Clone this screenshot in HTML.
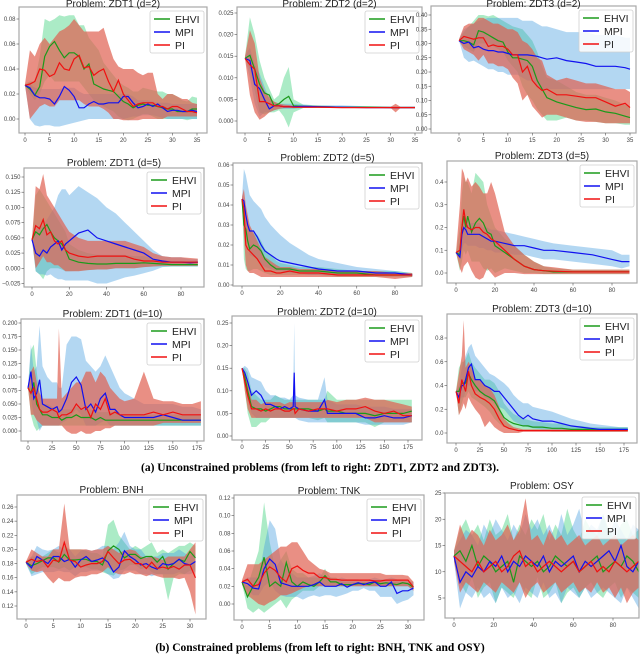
<!DOCTYPE html>
<html><head><meta charset="utf-8"><style>
html,body{margin:0;padding:0;background:#fff;width:640px;height:671px;overflow:hidden}
svg text{font-family:"Liberation Sans",sans-serif}
</style></head><body>
<svg id="fig" width="640" height="671" viewBox="0 0 640 671" xmlns="http://www.w3.org/2000/svg">
<text x="320" y="471" text-anchor="middle" style="font-family:'Liberation Serif',serif;font-weight:bold;font-size:11.5px">(a) Unconstrained problems (from left to right:  ZDT1, ZDT2 and ZDT3).</text>
<text x="320" y="651" text-anchor="middle" style="font-family:'Liberation Serif',serif;font-weight:bold;font-size:11.5px">(b) Constrained problems (from left to right:  BNH, TNK and OSY)</text>
</svg>
<script>
// ===== DATA =====
const a1_x=[0,1,2,3,4,5,6,7,8,9,10,11,12,13,14,15,16,17,18,19,20,21,22,23,24,25,26,27,28,29,30,31,32,33,34,35];
const a1_ehvi_mean=[.027,.024,.019,.026,.05,.058,.062,.055,.049,.053,.053,.05,.04,.044,.028,.026,.024,.023,.022,.018,.014,.012,.009,.011,.012,.011,.011,.01,.009,.008,.008,.006,.006,.006,.008,.008];
const a1_ehvi_lo=[.027,.02,.015,.02,.03,.035,.03,.03,.03,.03,.03,.03,.025,.02,.015,.012,.01,.008,.006,.002,0,-.001,0,.002,.004,.004,.002,0,0,0,0,0,0,-.001,0,0];
const a1_ehvi_hi=[.028,.03,.03,.05,.08,.078,.08,.083,.082,.083,.083,.075,.075,.065,.06,.055,.045,.04,.035,.03,.027,.025,.022,.022,.025,.024,.023,.022,.022,.02,.02,.018,.015,.014,.018,.017];
const a1_mpi_mean=[.027,.025,.019,.017,.017,.016,.012,.018,.026,.023,.018,.009,.009,.012,.014,.012,.012,.013,.013,.013,.018,.018,.013,.009,.01,.012,.01,.012,.009,.006,.007,.007,.006,.006,.007,.006];
const a1_mpi_lo=[.027,0,-.005,-.006,-.005,-.005,-.006,-.006,-.005,-.004,-.003,-.002,-.001,0,0,0,0,0,0,0,0,.001,.002,.002,.003,.003,.003,.002,.001,0,0,0,0,0,0,0];
const a1_mpi_hi=[.028,.028,.025,.024,.024,.024,.024,.024,.025,.025,.025,.022,.02,.02,.02,.02,.02,.02,.02,.02,.02,.02,.018,.015,.015,.015,.014,.013,.013,.013,.012,.012,.012,.012,.012,.012];
const a1_pi_mean=[.027,.028,.03,.04,.039,.034,.036,.045,.04,.039,.048,.051,.041,.042,.035,.038,.04,.03,.022,.031,.02,.015,.01,.012,.013,.013,.013,.01,.01,.008,.01,.01,.008,.006,.006,.005];
const a1_pi_lo=[.027,0,.005,.01,.012,.01,.01,.015,.015,.015,.015,.015,.012,.01,.01,.01,.008,.005,0,0,-.001,-.001,-.001,-.001,0,0,0,0,0,.002,.002,.002,.002,.002,.002,.002];
const a1_pi_hi=[.028,.055,.05,.06,.065,.06,.065,.07,.072,.075,.08,.075,.07,.07,.07,.07,.073,.06,.048,.042,.04,.04,.04,.037,.035,.037,.037,.02,.016,.02,.02,.018,.016,.016,.013,.012];

const a2_x=[0,1,2,3,4,5,6,7,8,9,10,12,15,20,25,30,31,32,35];
const a2_ehvi_mean=[.0145,.0152,.012,.0085,.0065,.006,.0035,.004,.005,.0057,.0035,.0034,.0033,.0032,.0032,.0031,.0031,.0031,.0031];
const a2_ehvi_lo=[.0145,.012,.007,.002,.0015,.002,.002,.0025,.001,-.0015,.002,.003,.003,.003,.003,.003,.003,.003,.003];
const a2_ehvi_hi=[.015,.024,.02,.014,.01,.0075,.005,.006,.01,.0125,.005,.0038,.0036,.0034,.0034,.0033,.0033,.0033,.0033];
const a2_mpi_mean=[.0145,.014,.0085,.0075,.005,.0028,.0035,.0035,.0033,.0033,.0033,.0034,.0033,.0032,.0031,.0031,.0031,.0031,.0031];
const a2_mpi_lo=[.0145,.01,.004,.001,.002,.002,.0025,.0028,.0028,.0028,.0028,.003,.003,.003,.003,.003,.003,.003,.003];
const a2_mpi_hi=[.015,.017,.013,.011,.008,.005,.0045,.004,.004,.004,.004,.0038,.0036,.0036,.0034,.0034,.0034,.0034,.0034];
const a2_pi_mean=[.0145,.013,.012,.0045,.0045,.004,.0035,.0035,.0033,.0033,.0032,.0032,.0032,.0031,.0031,.0031,.0031,.0031,.0031];
const a2_pi_lo=[.0145,.006,.002,.0003,.001,.002,.0025,.0028,.003,.003,.003,.003,.003,.003,.003,.003,.002,.003,.003];
const a2_pi_hi=[.015,.021,.018,.01,.007,.0055,.0045,.004,.0038,.0037,.0035,.0035,.0035,.0033,.0033,.0033,.004,.0033,.0033];

const a3_x=[0,1,2,3,4,5,6,7,8,9,10,11,12,13,14,15,16,17,18,20,22,24,26,28,30,32,34,35];
const a3_ehvi_mean=[.31,.31,.305,.295,.345,.34,.33,.32,.31,.305,.27,.25,.25,.245,.24,.22,.17,.14,.11,.095,.085,.075,.068,.07,.06,.055,.045,.04];
const a3_ehvi_lo=[.31,.29,.28,.27,.3,.3,.3,.29,.28,.27,.24,.22,.2,.15,.12,.1,.07,.05,.03,.03,.04,.03,.03,.025,.02,.02,.015,.015];
const a3_ehvi_hi=[.315,.34,.36,.38,.4,.4,.395,.4,.39,.38,.37,.36,.355,.35,.33,.31,.27,.22,.18,.17,.15,.13,.12,.12,.11,.1,.085,.08];
const a3_mpi_mean=[.31,.3,.305,.285,.29,.28,.275,.275,.27,.27,.265,.26,.26,.26,.26,.258,.255,.25,.245,.25,.24,.235,.23,.22,.22,.22,.215,.21];
const a3_mpi_lo=[.31,.25,.235,.24,.23,.22,.21,.21,.2,.2,.19,.19,.19,.18,.17,.17,.15,.14,.14,.14,.14,.14,.14,.14,.14,.14,.14,.14];
const a3_mpi_hi=[.315,.35,.36,.37,.38,.385,.39,.39,.39,.39,.39,.39,.39,.38,.38,.38,.37,.36,.36,.35,.34,.34,.34,.33,.33,.33,.32,.32];
const a3_pi_mean=[.31,.325,.32,.315,.32,.32,.29,.295,.29,.29,.28,.26,.26,.2,.22,.17,.15,.135,.14,.12,.12,.115,.11,.11,.095,.08,.09,.075];
const a3_pi_lo=[.31,.28,.27,.26,.24,.26,.23,.23,.22,.22,.21,.18,.16,.1,.12,.08,.06,.04,.05,.05,.04,.03,.025,.025,.02,.02,.02,.02];
const a3_pi_hi=[.315,.36,.37,.37,.39,.39,.38,.37,.37,.36,.35,.35,.34,.31,.3,.28,.25,.24,.19,.17,.18,.17,.16,.16,.15,.14,.14,.13];

const b1_x=[0,2,4,6,8,10,12,14,16,18,20,25,30,35,40,45,50,55,60,65,70,75,80,85,89];
const b1_ehvi_mean=[.047,.06,.055,.065,.072,.06,.05,.045,.04,.03,.015,.01,.008,.007,.007,.008,.008,.008,.009,.008,.007,.006,.006,.006,.006];
const b1_ehvi_lo=[.047,-.005,-.01,-.018,-.005,0,0,0,-.002,-.005,-.005,-.004,-.003,-.002,-.002,0,0,0,.002,.003,.003,.003,.003,.003,.003];
const b1_ehvi_hi=[.048,.12,.13,.12,.11,.1,.09,.08,.07,.06,.04,.03,.025,.022,.022,.022,.022,.02,.02,.016,.013,.012,.012,.012,.012];
const b1_mpi_mean=[.047,.025,.02,.03,.025,.035,.04,.045,.03,.04,.045,.058,.063,.05,.045,.04,.035,.03,.025,.015,.012,.01,.01,.009,.01];
const b1_mpi_lo=[.047,-.005,-.01,-.01,-.012,-.01,-.015,-.018,-.018,-.02,-.02,-.02,-.02,-.025,-.025,-.02,-.015,-.012,-.008,-.004,.002,.003,.003,.003,.003];
const b1_mpi_hi=[.048,.06,.07,.07,.08,.09,.1,.12,.13,.13,.12,.135,.125,.115,.1,.09,.075,.06,.045,.03,.02,.018,.018,.015,.015];
const b1_pi_mean=[.047,.07,.065,.08,.055,.06,.045,.04,.045,.03,.025,.02,.018,.02,.02,.02,.02,.015,.012,.012,.01,.01,.01,.01,.01];
const b1_pi_lo=[.047,0,.01,.02,.01,.01,.005,.005,0,-.005,-.005,-.005,-.003,-.002,-.002,0,0,0,.002,.003,.004,.004,.004,.004,.004];
const b1_pi_hi=[.048,.135,.13,.155,.12,.11,.1,.09,.08,.07,.06,.05,.045,.045,.045,.045,.045,.04,.035,.025,.02,.018,.018,.017,.016];

const b2_x=[0,1,2,3,4,6,8,10,12,15,18,20,25,30,35,40,50,60,70,80,89];
const b2_ehvi_mean=[.043,.03,.028,.022,.018,.02,.019,.017,.013,.01,.008,.008,.008,.007,.007,.007,.006,.006,.005,.005,.005];
const b2_ehvi_lo=[.043,.013,.008,.007,.007,.008,.008,.007,.006,.005,.005,.005,.005,.005,.005,.005,.004,.004,.004,.004,.004];
const b2_ehvi_hi=[.044,.04,.037,.03,.027,.026,.025,.022,.018,.015,.012,.011,.01,.009,.009,.009,.008,.007,.007,.007,.006];
const b2_mpi_mean=[.043,.042,.035,.03,.027,.027,.024,.02,.017,.015,.013,.012,.011,.01,.009,.008,.007,.007,.006,.006,.005];
const b2_mpi_lo=[.043,.03,.025,.02,.015,.014,.013,.01,.009,.008,.007,.007,.006,.006,.005,.005,.005,.005,.005,.005,.004];
const b2_mpi_hi=[.044,.058,.055,.05,.045,.042,.04,.038,.034,.03,.027,.025,.021,.018,.015,.013,.011,.009,.008,.007,.006];
const b2_pi_mean=[.043,.038,.02,.018,.017,.015,.013,.01,.007,.007,.006,.006,.007,.006,.006,.006,.005,.005,.005,.005,.005];
const b2_pi_lo=[.043,.025,.01,.007,.006,.006,.005,.004,.004,.004,.004,.004,.004,.004,.004,.004,.004,.004,.004,.003,.004];
const b2_pi_hi=[.044,.048,.04,.035,.03,.026,.022,.018,.014,.012,.01,.009,.009,.008,.008,.008,.007,.007,.007,.006,.006];

const b3_x=[0,2,3,4,5,6,8,10,12,14,16,18,20,25,30,35,40,45,50,60,70,80,85,89];
const b3_ehvi_mean=[.09,.08,.2,.25,.2,.25,.18,.22,.24,.22,.18,.17,.12,.09,.06,.03,.015,.01,.005,.005,.005,.005,.005,.005];
const b3_ehvi_lo=[.09,.01,.05,.1,.08,.1,.05,.05,.05,.02,.01,.02,0,.02,.01,0,0,-.005,-.005,-.005,-.005,-.005,-.005,-.005];
const b3_ehvi_hi=[.09,.2,.35,.42,.4,.4,.35,.44,.42,.4,.3,.25,.2,.15,.12,.08,.05,.03,.02,.015,.015,.015,.015,.015];
const b3_mpi_mean=[.09,.07,.17,.2,.19,.17,.17,.17,.17,.16,.15,.14,.14,.13,.12,.12,.11,.1,.1,.09,.08,.06,.05,.05];
const b3_mpi_lo=[.09,.06,.1,.13,.13,.12,.12,.12,.11,.11,.1,.1,.09,.09,.08,.08,.07,.06,.06,.05,.04,.03,.02,.03];
const b3_mpi_hi=[.09,.1,.22,.25,.24,.22,.22,.22,.22,.2,.2,.19,.19,.18,.17,.16,.15,.14,.13,.12,.11,.1,.08,.08];
const b3_pi_mean=[.09,.1,.2,.28,.22,.2,.19,.2,.2,.18,.17,.15,.14,.1,.06,.03,.015,.01,.008,.005,.005,.005,.005,.005];
const b3_pi_lo=[.09,.02,0,.03,.04,.05,.01,-.02,-.03,-.02,.02,0,-.02,0,0,-.005,-.005,-.005,-.005,-.005,-.005,-.005,-.005,-.005];
const b3_pi_hi=[.09,.3,.46,.44,.4,.42,.38,.4,.38,.35,.35,.4,.35,.18,.12,.08,.05,.03,.025,.015,.015,.015,.015,.015];

const c1_x=[0,3,6,9,12,15,20,25,30,32,35,40,45,50,55,60,65,70,75,80,85,90,95,100,110,120,130,140,150,160,170,179];
const c1_ehvi_mean=[.08,.07,.09,.05,.04,.03,.03,.025,.025,.025,.02,.025,.025,.03,.025,.025,.025,.02,.025,.02,.02,.02,.02,.02,.02,.02,.02,.02,.02,.02,.02,.02];
const c1_ehvi_lo=[.08,.03,.01,0,.005,.01,.01,.01,.01,.01,.01,.01,.01,.01,.01,.01,.01,.01,.01,.01,.01,.01,.01,.01,.01,.01,.01,.01,.01,.01,.01,.01];
const c1_ehvi_hi=[.08,.15,.16,.11,.07,.05,.05,.045,.04,.04,.04,.04,.04,.045,.04,.04,.04,.035,.035,.035,.035,.035,.03,.03,.03,.03,.03,.03,.03,.03,.03,.03];
const c1_mpi_mean=[.08,.11,.06,.07,.095,.05,.045,.04,.045,.035,.04,.06,.09,.1,.085,.04,.05,.035,.06,.07,.04,.04,.03,.025,.025,.025,.025,.03,.025,.02,.02,.02];
const c1_mpi_lo=[.08,.06,.03,.02,0,.01,.01,.01,.01,.01,.015,.02,.03,.04,.03,.01,.01,.01,.015,.02,.01,.01,.01,.01,.01,.01,.01,.01,.01,.01,.01,.01];
const c1_mpi_hi=[.08,.16,.11,.12,.195,.12,.1,.09,.09,.08,.08,.16,.175,.175,.17,.13,.12,.11,.12,.14,.12,.1,.08,.07,.06,.05,.05,.05,.05,.045,.045,.04];
const c1_pi_mean=[.08,.07,.08,.06,.04,.035,.035,.04,.035,.025,.03,.03,.035,.05,.04,.045,.025,.05,.04,.06,.03,.035,.03,.03,.03,.03,.035,.03,.035,.03,.03,.03];
const c1_pi_lo=[.08,.03,.03,.02,.015,.01,.01,.01,.01,.01,.01,0,-.005,-.005,0,-.005,-.005,0,0,.005,.005,.01,.01,.01,.01,.01,.01,.015,.015,.015,.015,.015];
const c1_pi_hi=[.08,.11,.12,.09,.07,.06,.06,.06,.06,.19,.06,.07,.08,.09,.09,.11,.11,.09,.11,.1,.08,.07,.06,.055,.06,.11,.06,.055,.055,.05,.05,.055];

const c2_x=[0,3,6,10,15,20,25,30,35,40,45,50,54,55,56,60,70,80,87,90,100,110,120,130,140,150,160,170,179];
const c2_ehvi_mean=[.15,.13,.1,.065,.06,.06,.055,.06,.065,.065,.06,.06,.06,.06,.06,.06,.06,.055,.06,.055,.055,.05,.05,.05,.045,.05,.05,.05,.055];
const c2_ehvi_lo=[.15,.1,.05,.02,.02,.03,.03,.04,.04,.04,.04,.04,.04,.04,.04,.04,.04,.035,.04,.03,.03,.03,.03,.03,.02,.03,.03,.03,.03];
const c2_ehvi_hi=[.15,.15,.14,.1,.09,.08,.08,.08,.09,.085,.08,.08,.08,.08,.08,.08,.08,.08,.08,.1,.08,.08,.08,.08,.08,.08,.08,.08,.08];
const c2_mpi_mean=[.15,.14,.12,.09,.1,.09,.07,.07,.065,.06,.065,.06,.065,.14,.065,.06,.055,.055,.08,.05,.05,.05,.05,.04,.04,.045,.04,.04,.045];
const c2_mpi_lo=[.15,.12,.08,.05,.04,.04,.04,.04,.04,.04,.04,.04,.04,.04,.04,.035,.03,.03,.03,.03,.03,.03,.03,.025,.025,.025,.025,.025,.03];
const c2_mpi_hi=[.15,.155,.15,.13,.125,.12,.1,.09,.09,.085,.085,.08,.09,.25,.09,.085,.08,.08,.13,.08,.07,.07,.07,.065,.065,.065,.06,.06,.06];
const c2_pi_mean=[.15,.12,.09,.06,.06,.055,.06,.055,.06,.06,.055,.055,.06,.06,.05,.06,.055,.06,.06,.06,.055,.06,.06,.065,.055,.05,.055,.045,.045];
const c2_pi_lo=[.15,.1,.06,.04,.04,.04,.04,.04,.04,.04,.04,.04,.04,.04,.04,.04,.04,.04,.04,.04,.04,.04,.04,.04,.03,.03,.03,.03,.03];
const c2_pi_hi=[.15,.14,.12,.08,.08,.07,.075,.075,.075,.075,.07,.075,.075,.075,.075,.075,.075,.075,.075,.08,.075,.08,.08,.085,.08,.08,.075,.07,.065];

const c3_x=[0,3,6,8,10,13,16,20,25,30,35,40,45,50,55,60,65,70,75,80,90,100,110,120,130,140,150,160,170,179];
const c3_ehvi_mean=[.35,.35,.42,.42,.42,.5,.45,.4,.35,.32,.3,.27,.2,.13,.1,.08,.07,.06,.06,.05,.05,.04,.04,.03,.03,.03,.03,.03,.03,.03];
const c3_ehvi_lo=[.35,.15,.25,.3,.3,.35,.3,.28,.25,.22,.18,.12,.08,.05,.04,.03,.03,.02,.02,.02,.02,.01,.01,.01,.01,.01,.01,.01,.01,.01];
const c3_ehvi_hi=[.35,.55,.6,.6,.62,.68,.6,.55,.5,.45,.45,.42,.35,.25,.2,.16,.14,.12,.11,.1,.09,.08,.08,.06,.06,.05,.05,.05,.05,.05];
const c3_mpi_mean=[.35,.3,.4,.4,.45,.55,.58,.45,.45,.4,.38,.35,.35,.3,.25,.2,.15,.12,.15,.12,.1,.1,.08,.06,.05,.04,.03,.03,.03,.03];
const c3_mpi_lo=[.35,.25,.3,.3,.35,.4,.4,.35,.35,.3,.28,.25,.22,.2,.15,.1,.08,.06,.05,.04,.03,.03,.02,.02,.02,.015,.015,.015,.015,.02];
const c3_mpi_hi=[.35,.4,.55,.6,.65,.72,.75,.65,.6,.55,.5,.48,.45,.42,.38,.32,.28,.25,.25,.22,.2,.18,.15,.12,.1,.08,.07,.06,.05,.05];
const c3_pi_mean=[.35,.25,.45,.4,.35,.52,.4,.33,.3,.28,.25,.2,.12,.06,.04,.03,.02,.02,.02,.02,.02,.02,.02,.02,.02,.02,.02,.02,.02,.02];
const c3_pi_lo=[.35,.15,.2,.25,.2,.3,.25,.2,.15,.05,.1,.05,.02,0,0,0,0,.01,.01,.01,.01,.01,.01,.01,.01,.01,.01,.01,.01,.01];
const c3_pi_hi=[.35,.5,.65,.95,.55,.6,.55,.45,.45,.4,.38,.32,.22,.12,.08,.05,.04,.03,.03,.03,.03,.03,.03,.03,.03,.03,.03,.03,.03,.03];

const d1_x=[0,1,2,3,4,5,6,7,8,9,10,11,12,13,14,15,16,17,18,19,20,21,22,23,24,25,26,27,28,29,30,31];
const d1_ehvi_mean=[.182,.177,.18,.184,.188,.188,.182,.193,.185,.185,.186,.186,.183,.183,.178,.198,.205,.2,.188,.193,.193,.187,.19,.19,.182,.19,.172,.18,.186,.183,.197,.188];
const d1_ehvi_lo=[.18,.165,.17,.175,.175,.175,.172,.175,.17,.175,.175,.175,.172,.172,.168,.165,.163,.17,.172,.178,.178,.172,.175,.168,.165,.165,.128,.16,.165,.165,.17,.17];
const d1_ehvi_hi=[.183,.19,.19,.19,.195,.2,.195,.205,.2,.2,.2,.198,.195,.195,.19,.235,.242,.22,.21,.2,.205,.2,.205,.21,.195,.2,.195,.2,.205,.205,.21,.205];
const d1_mpi_mean=[.182,.174,.19,.185,.18,.19,.19,.183,.186,.175,.185,.19,.183,.185,.188,.182,.168,.175,.198,.19,.185,.178,.18,.175,.172,.18,.178,.18,.186,.18,.178,.183];
const d1_mpi_lo=[.18,.162,.165,.168,.168,.168,.17,.168,.168,.162,.168,.168,.17,.17,.17,.165,.158,.16,.17,.17,.17,.165,.165,.162,.165,.165,.165,.165,.168,.165,.165,.168];
const d1_mpi_hi=[.183,.19,.205,.2,.198,.2,.205,.2,.2,.19,.198,.2,.198,.2,.205,.205,.2,.21,.225,.205,.2,.2,.19,.19,.19,.195,.195,.195,.2,.195,.19,.195];
const d1_pi_mean=[.182,.186,.183,.185,.175,.185,.183,.21,.185,.183,.175,.178,.18,.18,.183,.197,.188,.18,.185,.186,.18,.18,.173,.182,.173,.175,.173,.176,.172,.178,.178,.16];
const d1_pi_lo=[.18,.17,.168,.17,.16,.152,.16,.155,.155,.16,.162,.162,.165,.165,.168,.175,.168,.165,.165,.168,.165,.165,.162,.165,.162,.16,.16,.16,.158,.16,.14,.108];
const d1_pi_hi=[.183,.2,.195,.19,.19,.2,.2,.265,.2,.2,.2,.2,.198,.2,.2,.205,.2,.195,.198,.2,.198,.19,.188,.19,.188,.185,.19,.19,.19,.19,.2,.21];

const d2_x=[0,1,2,3,4,5,6,7,8,9,10,11,12,13,14,15,16,17,18,19,20,21,22,23,24,25,26,27,28,29,30,31];
const d2_ehvi_mean=[.025,.008,.02,.03,.053,.02,.025,.02,.047,.025,.02,.025,.022,.02,.025,.032,.025,.025,.022,.022,.022,.023,.023,.022,.025,.023,.024,.023,.022,.024,.023,.019];
const d2_ehvi_lo=[.023,-.005,-.01,-.005,-.01,-.005,0,.005,-.005,.005,.01,.015,.015,.015,.02,.02,.02,.02,.02,.02,.02,.02,.02,.02,.02,.02,.02,.02,.02,.02,.02,.015];
const d2_ehvi_hi=[.026,.02,.04,.06,.115,.07,.04,.05,.06,.04,.035,.035,.03,.03,.03,.04,.03,.03,.025,.025,.025,.025,.025,.025,.025,.025,.025,.025,.025,.025,.025,.022];
const d2_mpi_mean=[.025,.023,.018,.017,.04,.051,.045,.024,.022,.02,.02,.02,.02,.022,.025,.02,.02,.02,.023,.019,.022,.024,.022,.024,.025,.02,.02,.025,.012,.015,.015,.018];
const d2_mpi_lo=[.023,.015,.01,.01,.02,.025,.015,.01,.008,.008,.008,.005,.008,.01,.008,.01,.01,.008,.01,.012,.015,.015,.018,.015,.015,.008,.008,.008,0,.003,.005,.01];
const d2_mpi_hi=[.026,.03,.03,.03,.065,.095,.085,.05,.04,.035,.03,.03,.03,.032,.035,.03,.03,.028,.03,.028,.028,.028,.026,.028,.03,.028,.028,.03,.028,.026,.026,.025];
const d2_pi_mean=[.025,.028,.02,.022,.035,.042,.038,.03,.025,.04,.043,.038,.035,.035,.03,.03,.028,.028,.027,.027,.027,.027,.027,.027,.026,.026,.027,.027,.027,.027,.027,.019];
const d2_pi_lo=[.022,.01,.005,0,-.002,.002,.005,.01,.01,.012,.015,.018,.02,.02,.02,.02,.02,.02,.02,.02,.02,.02,.02,.02,.02,.02,.02,.02,.02,.02,.02,.015];
const d2_pi_hi=[.027,.045,.045,.045,.05,.055,.06,.065,.065,.07,.07,.06,.05,.045,.04,.038,.035,.035,.035,.035,.035,.035,.035,.035,.035,.035,.033,.033,.033,.033,.032,.025];

const d3_x=[0,3,6,9,12,15,18,21,24,27,30,33,36,39,42,45,48,51,54,57,60,63,66,69,72,75,78,81,84,87,90,93,95];
const d3_ehvi_mean=[13,14,12,15,11,13,12,10,11,12,8,13,12,11,12,10,11,13,12,11,12,10,11,12,13,10,11,12,11,13,12,10,9];
const d3_ehvi_lo=[12,8,6,9,5,7,8,4,7,6,5,8,6,5,9,5,6,8,4,6,7,5,7,8,6,5,7,8,5,7,6,5,6];
const d3_ehvi_hi=[14,18,20,17,19,16,20,17,18,21,16,19,17,20,18,21,16,19,17,22,18,16,20,18,17,21,18,16,19,20,17,18,16];
const d3_mpi_mean=[13,8,10,9,11,10,12,11,13,10,12,11,13,12,11,13,10,12,11,12,13,10,12,11,12,13,14,12,15,11,10,12,7];
const d3_mpi_lo=[12,3,6,5,7,5,6,4,7,5,6,4,7,6,5,8,5,6,4,7,6,5,7,5,6,7,6,5,4,7,5,3,4];
const d3_mpi_hi=[14,16,18,17,15,19,17,20,18,16,19,17,21,18,20,17,19,16,21,17,19,22,17,19,18,21,17,20,18,16,19,18,17];
const d3_pi_mean=[13,12,11,10,12,10,11,12,10,11,13,14,11,12,10,11,12,11,10,11,12,10,11,12,10,11,10,12,11,10,11,12,11];
const d3_pi_lo=[12,6,8,7,6,8,7,6,8,7,6,8,5,7,8,6,7,8,6,7,8,6,7,6,8,6,7,5,7,4,6,7,6];
const d3_pi_hi=[14,19,16,18,17,15,18,16,17,19,16,18,24,16,17,15,18,16,17,15,16,17,15,16,17,15,16,17,15,16,17,16,17];

const legendLabels=["EHVI","MPI","PI"];
const a1_yticks=[0,.02,.04,.06,.08], a2_yticks=[0,.005,.01,.015,.02,.025], a3_yticks=[0,.05,.1,.15,.2,.25,.3,.35,.4];
const b1_yticks=[-.025,0,.025,.05,.075,.1,.125,.15], b2_yticks=[0,.01,.02,.03,.04,.05,.06], b3_yticks=[0,.1,.2,.3,.4];
const c1_yticks=[0,.025,.05,.075,.1,.125,.15,.175,.2], c2_yticks=[0,.05,.1,.15,.2,.25], c3_yticks=[0,.2,.4,.6,.8];
const d1_yticks=[.12,.14,.16,.18,.2,.22,.24,.26], d2_yticks=[0,.02,.04,.06,.08,.1,.12], d3_yticks=[5,10,15,20,25];
const xt35=[0,5,10,15,20,25,30,35], xt80=[0,20,40,60,80], xt175=[0,25,50,75,100,125,150,175], xt30=[0,5,10,15,20,25,30];

// ===== LAYOUT (pixel calibration: value->pixel pairs) =====
const panels=[
 {id:"zdt1-d2",title:"Problem: ZDT1 (d=2)",ty:7,f:[19,7,207,133],xc:[0,25,35,197],yc:[0,119,.08,19],yt:a1_yticks,yd:2,xt:xt35,x:a1_x,s:[[a1_ehvi_mean,a1_ehvi_lo,a1_ehvi_hi],[a1_mpi_mean,a1_mpi_lo,a1_mpi_hi],[a1_pi_mean,a1_pi_lo,a1_pi_hi]]},
 {id:"zdt2-d2",title:"Problem: ZDT2 (d=2)",ty:7,f:[237,7,422,133],xc:[0,245,35,415],yc:[0,121,.025,13],yt:a2_yticks,yd:3,xt:xt35,x:a2_x,s:[[a2_ehvi_mean,a2_ehvi_lo,a2_ehvi_hi],[a2_mpi_mean,a2_mpi_lo,a2_mpi_hi],[a2_pi_mean,a2_pi_lo,a2_pi_hi]]},
 {id:"zdt3-d2",title:"Problem: ZDT3 (d=2)",ty:7,f:[431,6,636,133],xc:[0,459,35,630],yc:[0,129,.4,15],yt:a3_yticks,yd:2,xt:xt35,x:a3_x,s:[[a3_ehvi_mean,a3_ehvi_lo,a3_ehvi_hi],[a3_mpi_mean,a3_mpi_lo,a3_mpi_hi],[a3_pi_mean,a3_pi_lo,a3_pi_hi]]},
 {id:"zdt1-d5",title:"Problem: ZDT1 (d=5)",ty:166,f:[24,168,204,287],xc:[0,32,80,181],yc:[0,268.3,.15,177],yt:b1_yticks,yd:3,xt:xt80,x:b1_x,s:[[b1_ehvi_mean,b1_ehvi_lo,b1_ehvi_hi],[b1_mpi_mean,b1_mpi_lo,b1_mpi_hi],[b1_pi_mean,b1_pi_lo,b1_pi_hi]]},
 {id:"zdt2-d5",title:"Problem: ZDT2 (d=5)",ty:161,f:[233,163,422,286],xc:[0,242,80,395],yc:[0,285,.06,165],yt:b2_yticks,yd:2,xt:xt80,x:b2_x,s:[[b2_ehvi_mean,b2_ehvi_lo,b2_ehvi_hi],[b2_mpi_mean,b2_mpi_lo,b2_mpi_hi],[b2_pi_mean,b2_pi_lo,b2_pi_hi]]},
 {id:"zdt3-d5",title:"Problem: ZDT3 (d=5)",ty:159,f:[447,161,637,283],xc:[0,456,80,612],yc:[0,273,.4,182],yt:b3_yticks,yd:1,xt:xt80,x:b3_x,s:[[b3_ehvi_mean,b3_ehvi_lo,b3_ehvi_hi],[b3_mpi_mean,b3_mpi_lo,b3_mpi_hi],[b3_pi_mean,b3_pi_lo,b3_pi_hi]]},
 {id:"zdt1-d10",title:"Problem: ZDT1 (d=10)",ty:317,f:[21,319,204,441],xc:[0,28,175,197],yc:[0,431,.2,323],yt:c1_yticks,yd:3,xt:xt175,x:c1_x,s:[[c1_ehvi_mean,c1_ehvi_lo,c1_ehvi_hi],[c1_mpi_mean,c1_mpi_lo,c1_mpi_hi],[c1_pi_mean,c1_pi_lo,c1_pi_hi]]},
 {id:"zdt2-d10",title:"Problem: ZDT2 (d=10)",ty:315,f:[232,316,422,440],xc:[0,242,175,408],yc:[0,436,.25,323],yt:c2_yticks,yd:2,xt:xt175,x:c2_x,s:[[c2_ehvi_mean,c2_ehvi_lo,c2_ehvi_hi],[c2_mpi_mean,c2_mpi_lo,c2_mpi_hi],[c2_pi_mean,c2_pi_lo,c2_pi_hi]]},
 {id:"zdt3-d10",title:"Problem: ZDT3 (d=10)",ty:312,f:[447,314,637,443],xc:[0,456,175,624],yc:[0,433,.8,338],yt:c3_yticks,yd:1,xt:xt175,x:c3_x,s:[[c3_ehvi_mean,c3_ehvi_lo,c3_ehvi_hi],[c3_mpi_mean,c3_mpi_lo,c3_mpi_hi],[c3_pi_mean,c3_pi_lo,c3_pi_hi]]},
 {id:"bnh",title:"Problem: BNH",ty:493,f:[17,495,206,619],xc:[0,26,30,190],yc:[.12,606,.26,507],yt:d1_yticks,yd:2,xt:xt30,x:d1_x,s:[[d1_ehvi_mean,d1_ehvi_lo,d1_ehvi_hi],[d1_mpi_mean,d1_mpi_lo,d1_mpi_hi],[d1_pi_mean,d1_pi_lo,d1_pi_hi]]},
 {id:"tnk",title:"Problem: TNK",ty:494,f:[234,495,424,620],xc:[0,242,30,408],yc:[0,604,.12,498],yt:d2_yticks,yd:2,xt:xt30,x:d2_x,s:[[d2_ehvi_mean,d2_ehvi_lo,d2_ehvi_hi],[d2_mpi_mean,d2_mpi_lo,d2_mpi_hi],[d2_pi_mean,d2_pi_lo,d2_pi_hi]]},
 {id:"osy",title:"Problem: OSY",ty:489,f:[445,493,639,618],xc:[0,454,80,613],yc:[5,598,25,493],yt:d3_yticks,yd:0,xt:xt80,x:d3_x,s:[[d3_ehvi_mean,d3_ehvi_lo,d3_ehvi_hi],[d3_mpi_mean,d3_mpi_lo,d3_mpi_hi],[d3_pi_mean,d3_pi_lo,d3_pi_hi]]}
];
const lineColors=["#1a9a1a","#1010f0","#f01010"];
const fillColors=["#2ecc71","#4a9fe0","#e06050"];
const fillOp=[0.4,0.42,0.7];
const NS="http://www.w3.org/2000/svg";
const svg=document.getElementById("fig");
function mk(tag,attrs,parent){const e=document.createElementNS(NS,tag);for(const k in attrs)e.setAttribute(k,attrs[k]);(parent||svg).appendChild(e);return e;}
panels.forEach(p=>{
 const g=mk("g",{});
 
 
 const sx=v=>p.xc[1]+(v-p.xc[0])*(p.xc[3]-p.xc[1])/(p.xc[2]-p.xc[0]);
 const sy=v=>p.yc[1]+(v-p.yc[0])*(p.yc[3]-p.yc[1])/(p.yc[2]-p.yc[0]);
 const [L,T,R,B]=p.f;
 const cid="clip-"+p.id;
 const cp=mk("clipPath",{id:cid},g);mk("rect",{x:L,y:T,width:R-L,height:B-T},cp);
 const plot=mk("g",{"clip-path":"url(#"+cid+")"},g);
 p.s.forEach((ser,i)=>{
  const [m,lo,hi]=ser;
  let d="M"+p.x.map((x,j)=>sx(x).toFixed(1)+","+sy(hi[j]).toFixed(1)).join("L");
  for(let j=p.x.length-1;j>=0;j--)d+="L"+sx(p.x[j]).toFixed(1)+","+sy(lo[j]).toFixed(1);
  const band=mk("path",{d:d+"Z",fill:fillColors[i],"fill-opacity":fillOp[i],stroke:"none"},plot);
  
  
 });
 p.s.forEach((ser,i)=>{
  const m=ser[0];
  const ln=mk("polyline",{points:p.x.map((x,j)=>sx(x).toFixed(1)+","+sy(m[j]).toFixed(1)).join(" "),fill:"none",stroke:lineColors[i],"stroke-width":1.2},plot);
  
  
 });
 const fr=mk("rect",{x:L,y:T,width:R-L,height:B-T,fill:"none",stroke:"#a8a8a8","stroke-width":1.2},g);
 
 
 const tt=mk("text",{x:(L+R)/2,y:p.ty,"text-anchor":"middle","font-size":"10","fill":"#222"},g);
 tt.textContent=p.title;
 
 
 p.yt.forEach(v=>{const y=sy(v);
  mk("line",{x1:L-2.5,x2:L,y1:y,y2:y,stroke:"#555","stroke-width":0.6},g);
  const t=mk("text",{x:L-3.5,y:y+2,"text-anchor":"end","font-size":"6","fill":"#444"},g);
  t.textContent=(v<0?"\u22120":"")+ (v<0?Math.abs(v).toFixed(p.yd).slice(1):v.toFixed(p.yd));
  
  
 });
 p.xt.forEach(v=>{const x=sx(v);
  mk("line",{x1:x,x2:x,y1:B,y2:B+2.5,stroke:"#555","stroke-width":0.6},g);
  const t=mk("text",{x:x,y:B+9,"text-anchor":"middle","font-size":"6","fill":"#444"},g);
  t.textContent=String(v);
  
  
 });
 const lw=54,lh=42,lx=R-lw-3,ly=T+4;
 const lg=mk("g",{},g);
 
 
 mk("rect",{x:lx,y:ly,width:lw,height:lh,rx:2,fill:"#fff","fill-opacity":0.85,stroke:"#d0d0d0","stroke-width":0.8},lg);
 legendLabels.forEach((lab,i)=>{const y=ly+8+i*13;
  mk("line",{x1:lx+4,x2:lx+20,y1:y,y2:y,stroke:lineColors[i],"stroke-width":1.5},lg);
  const t=mk("text",{x:lx+25,y:y+3.8,"font-size":"10.5","fill":"#222"},lg);
  t.textContent=lab;
  
  
 });
});
</script>
</body></html>
